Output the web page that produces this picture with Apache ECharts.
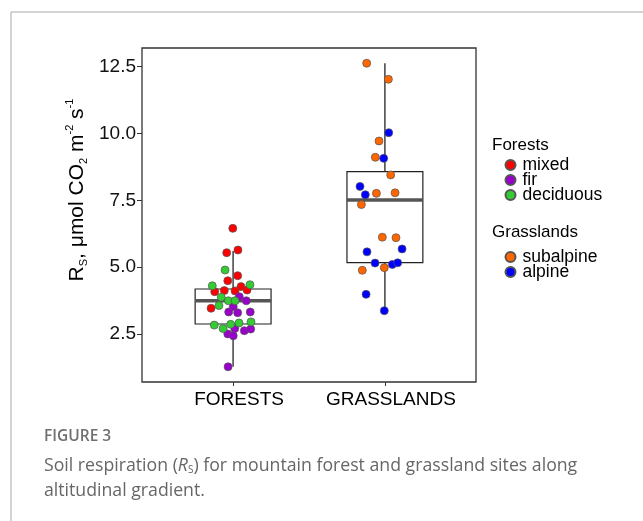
<!DOCTYPE html>
<html lang="en">
<head>
    <meta charset="UTF-8">
    <title>Soil respiration</title>
    <script src="https://cdn.jsdelivr.net/npm/echarts@6/dist/echarts.min.js"></script>
    <style>
        body {margin: 0; background: #fff;}
        #main {width: 643px; height: 521px;}
    </style>
</head>
<body>
<div id="main"></div>
<script>
    // groups on the x axis (positions 1 and 2)
    var groups = ['FORESTS', 'GRASSLANDS'];
    var yTicks = [2.5, 5.0, 7.5, 10.0, 12.5];

    // box stats: [x, lower whisker, q1, median, q3, upper whisker]
    var forestBox = [1, 1.27, 2.87, 3.74, 4.18, 5.6];
    var grassBox = [2, 3.37, 5.17, 7.51, 8.57, 12.63];

    // jittered points
    var mixedX = [0.998, 0.958, 1.032, 1.030, 0.965, 1.052, 0.879, 0.942, 1.013, 1.092, 0.855];
    var mixedY = [6.45, 5.54, 5.64, 4.68, 4.49, 4.27, 4.08, 4.12, 4.11, 4.14, 3.46];
    var firX = [1.041, 1.087, 1.001, 0.971, 1.030, 1.113, 1.011, 0.965, 1.001, 1.074, 1.116, 0.967];
    var firY = [3.89, 3.74, 3.52, 3.32, 3.29, 3.32, 2.70, 2.50, 2.43, 2.62, 2.68, 1.27];
    var decidX = [0.947, 0.863, 1.111, 0.922, 0.969, 1.013, 0.907, 0.876, 0.934, 0.984, 1.039, 1.118];
    var decidY = [4.89, 4.30, 4.34, 3.87, 3.74, 3.74, 3.56, 2.83, 2.70, 2.86, 2.91, 2.95];
    var subalpX = [1.880, 2.023, 1.961, 1.937, 2.038, 1.944, 2.067, 1.845, 1.983, 2.073, 1.851, 1.996];
    var subalpY = [12.63, 12.03, 9.72, 9.11, 8.45, 7.76, 7.78, 7.34, 6.12, 6.10, 4.88, 4.98];
    var alpX = [2.025, 1.992, 1.836, 1.871, 1.882, 2.113, 1.935, 2.049, 2.084, 1.876, 1.996];
    var alpY = [10.03, 9.07, 8.02, 7.71, 5.57, 5.68, 5.15, 5.10, 5.16, 3.98, 3.37];

    function pairs(xs, ys) {
        return xs.map(function (x, i) {
            return [x, ys[i]];
        });
    }

    function pointSeries(name, color, xs, ys) {
        return {
            name: name,
            type: 'scatter',
            symbolSize: 8,
            itemStyle: {color: color, borderColor: '#555', borderWidth: 0.7, opacity: 1},
            data: pairs(xs, ys),
            z: 5
        };
    }

    function renderBox(params, api) {
        var x = api.value(0);
        var half = 0.25;
        var lo = api.coord([x, api.value(1)]);
        var q1 = api.coord([x, api.value(2)]);
        var med = api.coord([x, api.value(3)]);
        var q3 = api.coord([x, api.value(4)]);
        var hi = api.coord([x, api.value(5)]);
        var left = api.coord([x - half, 0])[0];
        var right = api.coord([x + half, 0])[0];
        return {
            type: 'group',
            children: [
                {type: 'line', shape: {x1: q3[0], y1: q3[1], x2: hi[0], y2: hi[1]}, style: {stroke: '#333', lineWidth: 1.4}},
                {type: 'line', shape: {x1: q1[0], y1: q1[1], x2: lo[0], y2: lo[1]}, style: {stroke: '#333', lineWidth: 1.4}},
                {type: 'rect', shape: {x: left, y: q3[1], width: right - left, height: q1[1] - q3[1]},
                    style: {fill: '#fff', stroke: '#222', lineWidth: 1.2}},
                {type: 'line', shape: {x1: left, y1: med[1], x2: right, y2: med[1]}, style: {stroke: '#555', lineWidth: 3.6}}
            ]
        };
    }

    var font = 'Liberation Sans, Arial, sans-serif';
    var legendCommon = {
        orient: 'vertical',
        left: 504.5,
        padding: 0,
        icon: 'circle',
        itemWidth: 14,
        itemHeight: 10,
        itemGap: -3,
        textStyle: {fontSize: 17.5, color: '#000'}
    };
    var myChart = echarts.init(document.getElementById('main'));
    var option = {
        backgroundColor: '#fff',
        animation: false,
        textStyle: {fontFamily: font},
        grid: {left: 142, top: 48, width: 334, height: 334, show: true, borderColor: '#333', borderWidth: 1.3, backgroundColor: 'transparent'},
        xAxis: {
            type: 'value',
            min: 0.4,
            max: 2.6,
            axisLine: {show: false},
            splitLine: {show: false},
            axisTick: {show: true, customValues: [1, 2], length: 4, lineStyle: {color: '#333'}},
            axisLabel: {
                customValues: [1, 2],
                color: '#000',
                fontSize: 19,
                margin: 8,
                padding: [0, 0, 0, 12],
                formatter: function (v) {
                    return groups[Math.round(v) - 1];
                }
            }
        },
        yAxis: {
            type: 'value',
            min: 0.7,
            max: 13.2,
            axisLine: {show: false},
            splitLine: {show: false},
            axisTick: {show: true, customValues: yTicks, length: 5, lineStyle: {color: '#333'}},
            axisLabel: {
                customValues: yTicks,
                color: '#111',
                fontSize: 19,
                margin: 6,
                formatter: function (v) {
                    return v.toFixed(1);
                }
            }
        },
        legend: [
            Object.assign({data: ['mixed', 'fir', 'deciduous'], top: 156}, legendCommon),
            Object.assign({data: ['subalpine', 'alpine'], top: 248}, legendCommon)
        ],
        graphic: [
            {type: 'line', shape: {x1: 11, y1: 12, x2: 643, y2: 12}, style: {stroke: '#c4c4c4', lineWidth: 1.5}},
            {type: 'line', shape: {x1: 11, y1: 12, x2: 11, y2: 521}, style: {stroke: '#c4c4c4', lineWidth: 1.5}},
            {type: 'text', x: 492, y: 145, style: {text: 'Forests', fontSize: 17, fill: '#000', fontFamily: font, verticalAlign: 'middle'}},
            {type: 'text', x: 492, y: 232, style: {text: 'Grasslands', fontSize: 17, fill: '#000', fontFamily: font, verticalAlign: 'middle'}},
            {
                type: 'text', x: 77, y: 190, rotation: Math.PI / 2,
                style: {
                    text: '{n|R}{sub|S}{n|, μmol CO}{sub|2}{n| m}{sup|-2}{n| s}{sup|-1}',
                    align: 'center', verticalAlign: 'middle',
                    fontFamily: font,
                    rich: {
                        n: {fontSize: 21, fill: '#000', lineHeight: 30, verticalAlign: 'middle', fontFamily: font},
                        sub: {fontSize: 11, fill: '#000', verticalAlign: 'bottom', lineHeight: 13, padding: [0, 0, 3, 0], fontFamily: font},
                        sup: {fontSize: 11, fill: '#000', verticalAlign: 'top', lineHeight: 13, padding: [2, 0, 0, 0], fontFamily: font}
                    }
                }
            },
            {type: 'text', x: 44, y: 437, style: {text: 'FIGURE 3', fontSize: 15.5, fontWeight: 600, fill: '#6f6f6f', fontFamily: 'Open Sans', verticalAlign: 'middle'}},
            {
                type: 'text', x: 44, y: 466,
                style: {
                    text: '{t|Soil respiration (}{i|R}{s|S}{t|) for mountain forest and grassland sites along}',
                    verticalAlign: 'middle',
                    rich: {
                        t: {fontSize: 17.7, fill: '#666', fontFamily: 'Open Sans', lineHeight: 24, verticalAlign: 'middle'},
                        i: {fontSize: 17.7, fill: '#666', fontFamily: 'Open Sans', fontStyle: 'italic', lineHeight: 24, verticalAlign: 'middle'},
                        s: {fontSize: 10, fill: '#666', fontFamily: 'Open Sans', lineHeight: 12, verticalAlign: 'bottom', padding: [0, 0, 3, 0]}
                    }
                }
            },
            {type: 'text', x: 44, y: 491, style: {text: 'altitudinal gradient.', fontSize: 17.7, fill: '#666', fontFamily: 'Open Sans', verticalAlign: 'middle'}}
        ],
        series: [
            {
                type: 'custom',
                name: 'box',
                renderItem: renderBox,
                encode: {x: 0, y: [1, 2, 3, 4, 5]},
                data: [forestBox, grassBox],
                z: 2
            },
            pointSeries('mixed', '#ff0000', mixedX, mixedY),
            pointSeries('fir', '#9900cc', firX, firY),
            pointSeries('deciduous', '#33cc33', decidX, decidY),
            pointSeries('subalpine', '#ff6600', subalpX, subalpY),
            pointSeries('alpine', '#0000ff', alpX, alpY)
        ]
    };
    myChart.setOption(option);
</script>
</body>
</html>
